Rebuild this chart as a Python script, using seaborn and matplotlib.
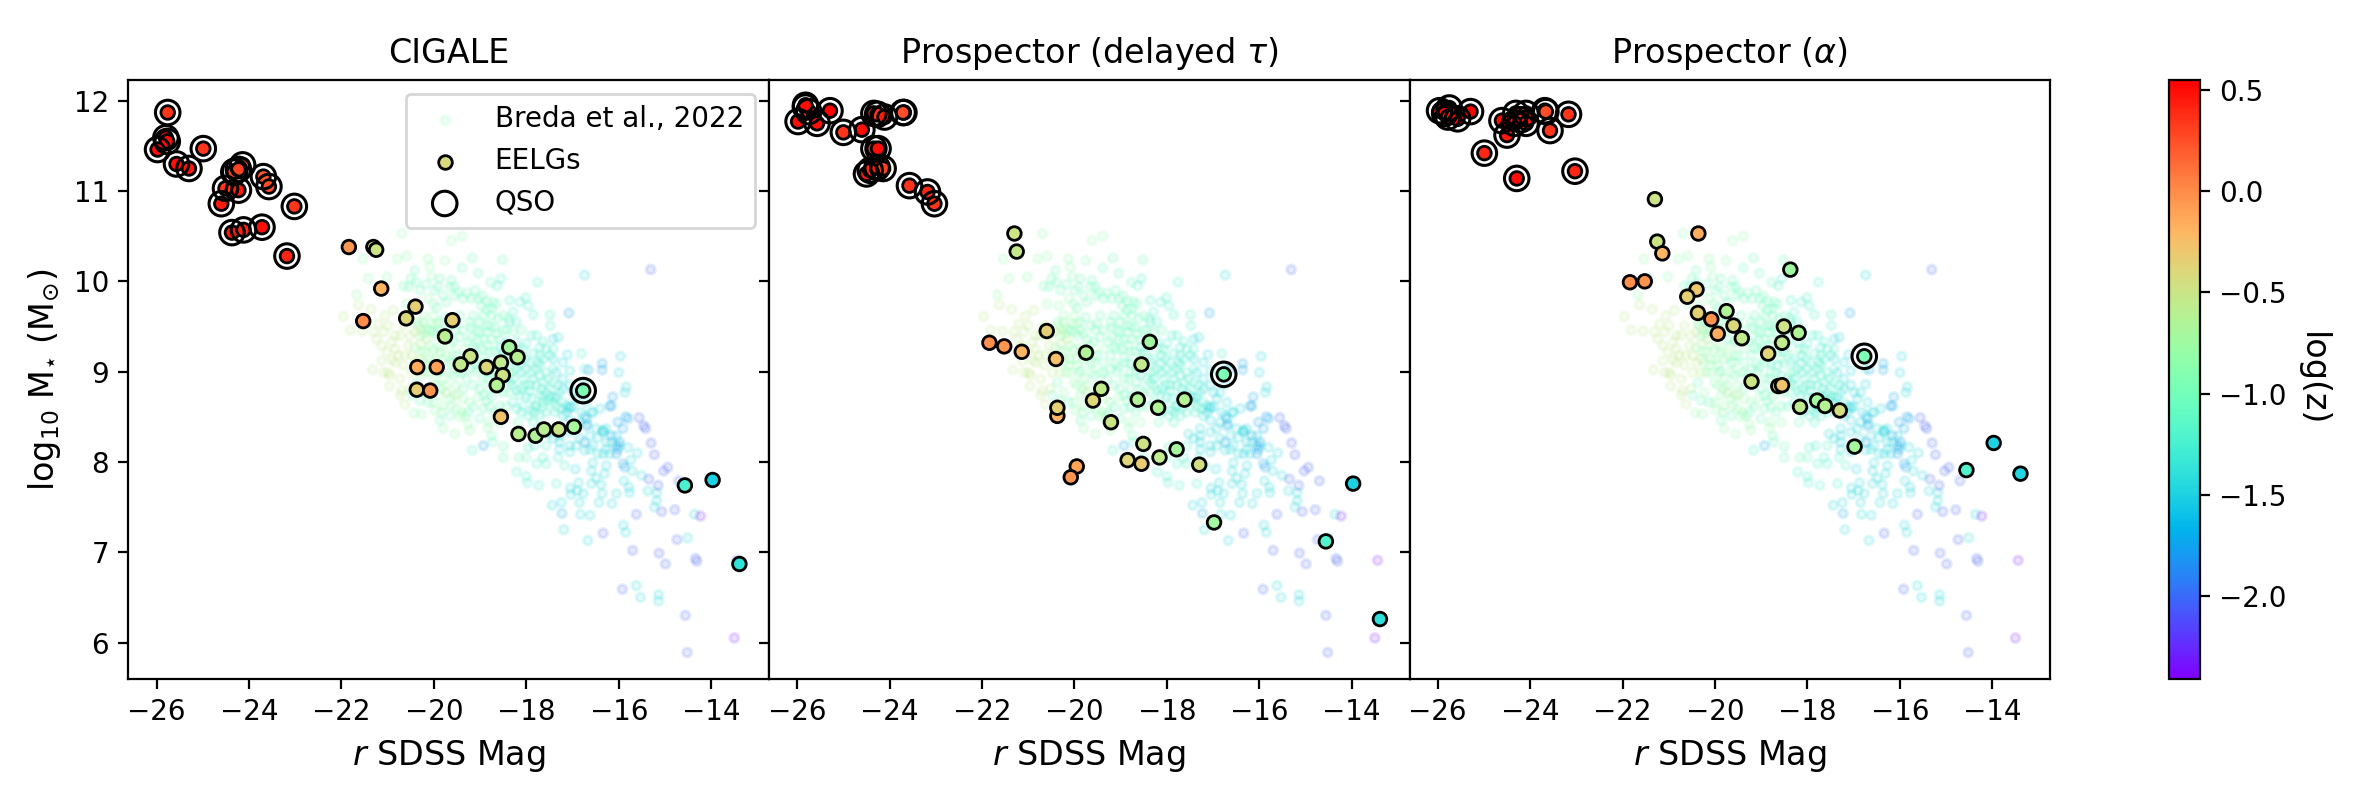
import numpy as np
import pandas as pd
import matplotlib.pyplot as plt
import seaborn as sns
from matplotlib.colors import Normalize
from matplotlib.cm import ScalarMappable

# Breda et al. 2022 background sample, grouped by colour (log z)
logz_a = -0.55
mag_a = [-21.63, -21.96, -21.81, -21.56, -21.36, -21.20, -21.09, -21.13, -20.91, -20.84, -20.91, -21.13, -20.73, -20.88, -20.55, -20.99, -21.33, -20.96, -20.73, -20.70, -20.63, -20.30, -20.27, -20.41, -20.48, -19.51, -19.73, -20.48, -20.52, -20.30,
         -21.06, -21.31, -20.99, -20.66, -20.84, -20.63, -20.77, -21.02, -21.24, -20.84, -20.66, -20.41, -20.30, -20.52, -20.16, -21.09, -20.73, -20.95]
mass_a = [9.74, 9.61, 9.46, 9.45, 9.69, 9.53, 9.44, 9.29, 9.33, 9.25, 9.13, 9.12, 9.40, 9.68, 9.29, 8.99, 9.02, 8.84, 8.92, 8.79, 8.64, 9.31, 9.46, 9.44, 9.18, 8.74, 8.77, 8.99, 8.81, 8.99,
          9.62, 9.44, 9.51, 9.51, 9.40, 9.18, 9.18, 9.22, 9.36, 9.10, 9.07, 9.10, 9.14, 9.40, 9.36, 8.99, 8.74, 8.96]

logz_b = -0.85
mag_b = [-21.54, -21.42, -21.67, -21.02, -20.79, -20.59, -20.69, -20.13, -19.62, -19.39, -19.76, -20.09, -20.05, -20.12, -20.01, -20.34, -20.59, -19.94, -20.01, -20.09, -20.19, -20.09, -19.80, -19.87, -20.09, -19.80, -19.94, -19.51, -20.23, -19.87, -19.65, -19.37, -20.01, -19.80, -19.98, -19.51, -20.27, -20.43, -19.44, -19.33, -19.26, -19.22, -19.55, -19.80, -18.83, -18.80, -18.57,
         -20.23, -20.37, -20.23, -20.16, -20.01, -20.30, -20.23, -19.94, -19.73, -19.58, -19.37, -19.65, -19.87, -19.98, -20.19, -20.01, -19.73, -19.58, -19.83,
         -20.34, -20.19, -20.05, -19.87, -20.41, -20.27, -20.12, -19.91, -19.65, -20.01, -19.80, -19.58, -19.44, -19.83, -19.62, -19.40, -19.22, -19.04]
mass_b = [10.25, 10.03, 9.85, 10.05, 10.25, 10.28, 10.53, 10.25, 10.45, 10.50, 10.23, 10.16, 10.05, 9.81, 9.75, 9.73, 9.75, 9.53, 9.62, 9.29, 9.22, 9.14, 9.14, 9.27, 8.99, 8.92, 8.85, 8.85, 8.77, 8.74, 8.70, 8.70, 8.66, 8.62, 8.57, 8.59, 8.53, 8.54, 8.50, 8.51, 8.42, 8.35, 8.31, 8.37, 8.38, 8.44, 8.44,
          9.62, 9.55, 9.55, 9.47, 9.44, 9.40, 9.10, 9.07, 9.18, 9.18, 9.25, 9.29, 9.22, 9.14, 8.99, 8.88, 8.85, 8.74, 8.55,
          9.51, 9.42, 9.53, 9.55, 9.27, 9.22, 9.07, 8.99, 8.99, 9.25, 9.42, 9.10, 8.99, 8.81, 8.62, 8.55, 8.66, 8.72]

logz_c = -1.05
mag_c = [-19.17, -18.52, -19.39, -20.55, -20.66, -20.41, -20.30, -19.87, -19.91, -19.62, -19.55, -19.55, -19.19, -19.37, -19.73, -19.94, -19.15, -19.44, -19.65, -19.87, -19.55, -19.37, -19.08, -19.58, -19.26, -19.04, -19.51, -19.08, -19.29, -19.08, -18.93, -18.93, -18.79, -19.15, -18.79, -18.57, -18.50, -18.86, -18.65, -18.83, -18.79, -18.57, -18.86, -18.72, -18.61, -18.79, -19.04, -19.11, -19.04, -18.77, -18.43, -18.29, -18.29, -18.18, -18.16, -18.00, -18.50, -18.50, -18.73, -18.75,
         -20.50, -20.39, -20.17, -19.99, -19.80, -19.65, -19.47, -19.29, -18.95, -18.86, -18.65, -18.93, -18.75, -18.50, -19.01, -19.22, -19.51, -19.76, -20.09, -19.94, -19.73, -19.44, -19.19, -18.93, -18.75, -18.43, -18.29, -18.11, -18.43, -18.57, -18.93, -19.22, -19.37, -19.65, -19.87, -19.58, -19.37, -19.11, -18.90, -18.68, -18.83, -18.65, -19.15, -19.37, -19.01, -18.75, -18.36, -18.43, -18.93, -19.01, -19.26, -19.65, -19.87, -20.12, -20.30, -20.48, -20.37,
         -19.19, -19.01, -18.86, -18.68, -18.50, -19.15, -18.97, -18.68, -18.50, -19.04, -18.79, -19.22, -18.57, -18.86, -18.68, -18.36, -18.18, -18.39, -18.75, -18.97]
mass_c = [10.26, 10.24, 10.15, 9.94, 9.95, 10.12, 9.90, 10.03, 9.94, 10.01, 9.94, 9.84, 9.81, 9.81, 9.77, 9.71, 9.62, 9.62, 9.51, 9.46, 9.46, 9.46, 9.46, 9.33, 9.33, 9.35, 9.18, 9.25, 8.92, 9.00, 8.92, 8.74, 8.81, 8.61, 8.61, 8.62, 8.77, 9.44, 9.42, 9.29, 9.22, 9.35, 9.68, 9.77, 9.59, 9.51, 9.81, 9.90, 10.09, 9.99, 8.92, 8.85, 9.00, 8.44, 8.05, 8.05, 8.17, 8.05, 8.22, 8.29,
          10.03, 9.99, 9.97, 9.90, 9.84, 9.94, 9.88, 9.87, 9.84, 9.78, 9.75, 9.62, 9.62, 9.62, 9.55, 9.55, 9.53, 9.60, 9.46, 9.40, 9.36, 9.38, 9.38, 9.36, 9.36, 9.46, 9.44, 9.46, 9.22, 9.14, 9.16, 9.18, 9.10, 9.09, 9.01, 8.96, 8.99, 9.09, 9.10, 8.99, 8.92, 8.88, 8.85, 8.81, 8.81, 8.72, 8.77, 8.61, 8.59, 8.48, 8.55, 8.51, 8.46, 8.66, 8.68, 8.74, 8.88,
          9.49, 9.44, 9.51, 9.49, 9.46, 9.27, 9.25, 9.22, 9.09, 9.05, 8.99, 9.03, 8.81, 8.68, 8.55, 8.99, 9.25, 9.59, 9.70, 9.73]

logz_d = -1.25
mag_d = [-18.55, -18.63, -18.36, -18.14, -18.29, -18.21, -18.36, -18.01, -17.96, -17.85, -17.76, -17.49, -17.48, -17.89, -18.00, -18.07, -17.78, -17.64, -17.85, -17.57, -17.93, -17.64, -18.14, -17.78, -17.57, -18.07, -17.85, -17.64, -17.42, -18.11, -17.93, -17.71, -17.49, -17.28, -18.29, -18.07, -17.82, -17.57, -17.35, -17.85, -19.17, -17.96, -18.21, -18.00, -17.98, -17.73, -17.78, -17.57, -17.64, -17.82, -17.57, -17.35, -17.31, -17.17, -16.81, -16.74,
         -18.21, -18.43, -18.11, -18.21, -18.00, -17.71, -17.42, -17.71, -17.42, -17.93, -17.71, -17.49, -17.78, -18.00, -17.64, -17.42, -17.57, -17.21, -17.78, -17.64, -17.53, -17.42, -18.29, -18.14, -18.36, -18.21, -17.96, -17.82, -17.71, -18.57, -18.36, -18.65, -18.50, -18.79, -18.57,
         -18.03, -17.89, -18.29, -18.11, -17.71, -17.49, -17.53, -17.31, -17.67, -17.89, -18.11, -17.89, -17.64, -17.39, -17.24, -17.75, -18.03, -18.21]
mass_d = [10.03, 9.95, 9.79, 9.77, 9.66, 9.55, 9.55, 9.82, 9.73, 9.63, 9.99, 9.63, 9.51, 9.40, 9.31, 9.25, 9.40, 9.33, 9.20, 9.25, 9.10, 9.14, 9.09, 9.03, 8.99, 8.92, 8.92, 8.88, 8.88, 8.81, 8.79, 8.74, 8.72, 8.77, 8.66, 8.62, 8.55, 8.55, 8.61, 8.44, 8.13, 8.16, 7.89, 7.84, 7.77, 7.74, 7.98, 7.98, 8.05, 8.18, 8.18, 7.76, 8.05, 7.96, 9.20, 9.03,
          9.33, 9.33, 9.18, 9.03, 9.03, 9.18, 9.25, 9.07, 9.03, 8.85, 8.96, 8.81, 8.85, 8.72, 8.66, 8.66, 8.77, 8.66, 8.62, 8.72, 8.68, 8.71, 8.92, 8.74, 8.88, 8.59, 8.51, 8.61, 8.51, 8.96, 9.11, 9.07, 9.22, 9.09, 9.27,
          9.14, 8.99, 9.14, 8.99, 9.27, 9.18, 8.92, 8.85, 8.81, 8.70, 8.55, 8.57, 8.61, 8.55, 8.59, 9.10, 8.85, 8.79]

logz_e = -1.45
mag_e = [-17.42, -17.31, -17.42, -17.21, -17.35, -17.06, -17.11, -17.21, -17.06, -16.92, -17.06, -17.28, -17.53, -17.06, -17.28, -16.92, -17.06, -16.63, -16.94, -16.87, -17.05, -16.90, -16.77, -17.04, -17.24, -17.44, -16.85, -16.43, -16.15, -16.05, -15.77, -15.78, -15.89, -15.51, -15.71, -16.59, -16.56, -16.49, -16.38, -16.36, -16.59, -16.31, -16.27, -16.83, -16.62, -17.19, -16.67, -15.90, -15.85, -15.62, -15.53, -15.14, -15.14, -14.51, -15.23, -15.18, -15.18, -15.37, -14.36, -16.74, -15.96, -16.00, -15.84, -15.87, -16.70, -16.56, -16.34, -16.34, -16.45, -16.27, -15.80, -15.60, -15.74, -16.34, -16.20,
         -17.13, -17.06, -16.99, -17.13, -16.81, -16.74, -16.85, -16.67, -16.59, -16.41, -17.21, -16.99, -16.85, -16.74, -17.21, -17.35, -16.92, -17.06, -17.28, -17.42, -16.85, -16.63, -16.49, -16.34, -16.27, -16.05, -16.16, -15.98, -16.27, -16.56, -16.45, -17.06, -17.28, -16.74]
mass_e = [9.36, 9.38, 9.14, 9.10, 8.99, 9.01, 9.19, 8.92, 8.85, 8.70, 8.61, 8.37, 8.31, 8.46, 8.22, 8.18, 8.11, 8.14, 7.92, 7.77, 7.71, 7.68, 7.65, 7.64, 7.55, 7.52, 7.55, 7.55, 7.54, 7.65, 7.66, 7.72, 7.79, 7.85, 7.90, 7.90, 7.99, 7.82, 7.75, 7.65, 7.76, 7.87, 7.96, 7.42, 7.41, 7.25, 7.13, 7.30, 7.22, 6.63, 6.50, 6.53, 6.46, 7.16, 7.50, 7.57, 7.66, 7.68, 7.42, 10.07, 9.17, 8.99, 8.83, 8.77, 8.66, 8.55, 8.35, 8.34, 8.27, 8.22, 8.16, 8.10, 8.02, 8.09, 8.09,
          8.62, 8.59, 8.61, 8.55, 8.55, 8.51, 8.44, 8.42, 8.55, 8.59, 8.51, 8.77, 8.77, 8.86, 8.81, 8.72, 8.37, 8.33, 8.29, 8.26, 8.26, 8.29, 8.37, 8.33, 8.37, 8.29, 8.22, 8.18, 8.14, 8.18, 8.09, 8.18, 8.14, 8.13]

logz_f = -1.75
mag_f = [-17.08, -16.36, -16.36, -16.66, -16.13, -16.20, -16.16, -16.70, -16.70, -16.74, -15.85, -16.02, -15.91, -16.16, -15.98, -16.05, -16.02, -16.05, -15.87, -15.91, -18.93, -17.23, -15.80]
mass_f = [9.65, 9.09, 9.02, 9.02, 8.72, 8.62, 8.62, 8.48, 8.40, 8.22, 8.50, 8.44, 8.37, 8.29, 8.22, 8.18, 8.14, 8.09, 7.94, 7.98, 8.18, 7.43, 8.48]

logz_g = -2.05
mag_g = [-15.31, -15.56, -15.46, -15.42, -15.30, -15.23, -14.94, -15.03, -14.70, -15.15, -15.35, -15.62, -15.07, -14.79, -14.74, -15.13, -14.99, -14.34, -14.31, -15.70, -16.34, -15.92, -14.56, -14.52]
mass_g = [10.13, 8.49, 8.40, 8.37, 8.21, 8.08, 7.94, 7.90, 7.79, 7.74, 7.81, 7.42, 7.45, 7.47, 7.14, 6.99, 6.87, 6.93, 6.90, 7.02, 7.21, 6.59, 6.30, 5.89]

logz_h = -2.35
mag_h = [-14.23, -13.50, -13.44]
mass_h = [7.40, 6.05, 6.91]

# CIGALE
cigale_eelg_mag = [-21.84, -21.31, -21.25, -21.14, -20.40, -20.60, -21.53, -19.60, -19.76, -18.37, -18.19, -19.21, -19.42, -18.86, -18.55, -18.51, -18.64, -20.36, -19.94, -20.37, -20.08, -18.55, -18.17, -17.80, -17.62, -17.30, -16.97, -16.77, -14.57, -13.97, -13.39]
cigale_eelg_mass = [10.38, 10.38, 10.35, 9.92, 9.72, 9.59, 9.56, 9.57, 9.39, 9.27, 9.16, 9.17, 9.08, 9.05, 9.10, 8.96, 8.85, 9.05, 9.05, 8.80, 8.79, 8.50, 8.31, 8.29, 8.36, 8.36, 8.39, 8.79, 7.74, 7.80, 6.87]
cigale_eelg_logz = [-0.05, -0.45, -0.50, -0.20, -0.35, -0.40, 0.00, -0.35, -0.60, -0.70, -0.60, -0.50, -0.55, -0.38, -0.55, -0.48, -0.65, -0.15, -0.10, -0.35, -0.05, -0.28, -0.60, -0.65, -0.60, -0.50, -0.70, -0.95, -1.25, -1.50, -1.38]
cigale_qso_mag = [-25.76, -25.80, -25.77, -25.98, -25.57, -25.30, -24.99, -24.14, -24.31, -24.33, -24.23, -23.69, -23.57, -24.51, -24.23, -24.60, -23.02, -24.37, -24.12, -23.72, -23.18]
cigale_qso_mass = [11.87, 11.59, 11.55, 11.46, 11.30, 11.25, 11.47, 11.29, 11.22, 11.21, 11.24, 11.16, 11.05, 11.03, 11.01, 10.86, 10.83, 10.54, 10.57, 10.60, 10.28]
cigale_qso_logz = [0.35, 0.52, 0.50, 0.50, 0.50, 0.45, 0.35, 0.25, 0.30, 0.30, 0.30, 0.22, 0.25, 0.35, 0.45, 0.45, 0.35, 0.45, 0.42, 0.50, 0.40]

# Prospector delayed tau
delayed_eelg_mag = [-21.30, -21.25, -20.60, -21.84, -21.52, -21.14, -20.40, -19.75, -18.37, -18.55, -19.42, -19.60, -20.37, -20.37, -18.63, -18.19, -17.62, -19.21, -18.51, -18.85, -18.55, -18.16, -17.79, -17.30, -19.95, -20.08, -16.98, -16.77, -14.56, -13.97, -13.39]
delayed_eelg_mass = [10.53, 10.33, 9.45, 9.32, 9.28, 9.22, 9.14, 9.21, 9.33, 9.08, 8.81, 8.68, 8.51, 8.60, 8.69, 8.60, 8.69, 8.44, 8.20, 8.02, 7.98, 8.05, 8.14, 7.97, 7.95, 7.83, 7.33, 8.97, 7.12, 7.76, 6.26]
delayed_eelg_logz = [-0.50, -0.52, -0.35, -0.02, -0.05, -0.20, -0.25, -0.65, -0.72, -0.55, -0.55, -0.38, -0.20, -0.35, -0.65, -0.65, -0.62, -0.50, -0.48, -0.38, -0.32, -0.55, -0.70, -0.45, -0.10, -0.05, -0.72, -0.95, -1.20, -1.50, -1.40]
delayed_qso_mag = [-25.82, -25.75, -25.82, -25.98, -25.57, -25.29, -25.00, -24.60, -24.34, -24.26, -24.11, -23.69, -23.71, -24.34, -24.25, -24.50, -24.42, -24.27, -24.14, -23.57, -23.18, -23.03]
delayed_qso_mass = [11.93, 11.88, 11.95, 11.77, 11.75, 11.89, 11.65, 11.68, 11.86, 11.85, 11.82, 11.87, 11.87, 11.47, 11.47, 11.19, 11.23, 11.26, 11.25, 11.06, 10.99, 10.86]
delayed_qso_logz = [0.35, 0.30, 0.50, 0.50, 0.50, 0.55, 0.35, 0.50, 0.35, 0.35, 0.45, 0.25, 0.25, 0.35, 0.50, 0.45, 0.40, 0.45, 0.30, 0.35, 0.40, 0.35]

# Prospector alpha
alpha_eelg_mag = [-21.30, -20.36, -21.25, -21.14, -21.84, -21.52, -18.37, -20.40, -20.60, -20.37, -19.75, -20.08, -19.60, -19.94, -19.42, -18.51, -18.19, -18.55, -18.85, -19.21, -18.63, -18.55, -17.79, -17.62, -17.30, -18.16, -16.98, -16.77, -14.56, -13.97, -13.39]
alpha_eelg_mass = [10.91, 10.53, 10.44, 10.31, 9.99, 10.00, 10.13, 9.91, 9.83, 9.65, 9.67, 9.58, 9.51, 9.42, 9.37, 9.50, 9.43, 9.32, 9.20, 8.89, 8.84, 8.85, 8.68, 8.62, 8.57, 8.61, 8.17, 9.17, 7.91, 8.21, 7.87]
alpha_eelg_logz = [-0.50, -0.15, -0.50, -0.20, -0.02, -0.03, -0.75, -0.30, -0.35, -0.35, -0.65, -0.03, -0.40, -0.15, -0.55, -0.48, -0.65, -0.55, -0.38, -0.50, -0.38, -0.28, -0.70, -0.62, -0.45, -0.58, -0.70, -0.95, -1.20, -1.50, -1.48]
alpha_qso_mag = [-25.96, -25.75, -25.85, -25.78, -25.57, -25.29, -24.61, -24.31, -24.09, -24.20, -24.09, -24.50, -24.34, -23.68, -23.66, -23.57, -23.17, -24.99, -24.29, -23.03]
alpha_qso_mass = [11.89, 11.92, 11.86, 11.82, 11.80, 11.88, 11.78, 11.86, 11.86, 11.79, 11.75, 11.62, 11.75, 11.89, 11.88, 11.67, 11.85, 11.42, 11.14, 11.22]
alpha_qso_logz = [0.40, 0.45, 0.50, 0.45, 0.50, 0.55, 0.50, 0.45, 0.35, 0.35, 0.45, 0.45, 0.50, 0.25, 0.25, 0.35, 0.35, 0.40, 0.50, 0.40]

titles = ['CIGALE', r'Prospector (delayed $\tau$)', r'Prospector ($\alpha$)']
x_ticks = [-26, -24, -22, -20, -18, -16, -14]
y_ticks = [6, 7, 8, 9, 10, 11, 12]
cbar_ticks = [-2.0, -1.5, -1.0, -0.5, 0.0, 0.5]

# put the bands together in one table
bands = [(logz_a, mag_a, mass_a), (logz_b, mag_b, mass_b), (logz_c, mag_c, mass_c),
         (logz_d, mag_d, mass_d), (logz_e, mag_e, mass_e), (logz_f, mag_f, mass_f),
         (logz_g, mag_g, mass_g), (logz_h, mag_h, mass_h)]
breda = pd.concat([pd.DataFrame({'mag': m, 'mass': s, 'logz': z}) for z, m, s in bands], ignore_index=True)

norm = Normalize(vmin=-2.41, vmax=0.55)
cmap = plt.get_cmap('rainbow')

fig, axes = plt.subplots(1, 3, figsize=(11.805, 4), dpi=200, sharex=True, sharey=True)
fig.subplots_adjust(left=0.0544, right=0.8683, top=0.9, bottom=0.15125, wspace=0)

panels = [(cigale_eelg_mag, cigale_eelg_mass, cigale_eelg_logz, cigale_qso_mag, cigale_qso_mass, cigale_qso_logz),
          (delayed_eelg_mag, delayed_eelg_mass, delayed_eelg_logz, delayed_qso_mag, delayed_qso_mass, delayed_qso_logz),
          (alpha_eelg_mag, alpha_eelg_mass, alpha_eelg_logz, alpha_qso_mag, alpha_qso_mass, alpha_qso_logz)]

for ax, title, panel in zip(axes, titles, panels):
    e_mag, e_mass, e_z, q_mag, q_mass, q_z = panel

    # background sample
    sns.scatterplot(data=breda, x='mag', y='mass', hue='logz', palette=cmap, hue_norm=norm,
                    s=10, alpha=0.13, edgecolor='face', linewidth=1.2, legend=False, ax=ax)

    # EELGs and QSOs share the same filled marker, the QSOs get a ring on top
    sns.scatterplot(x=e_mag + q_mag, y=e_mass + q_mass, hue=e_z + q_z, palette=cmap, hue_norm=norm,
                    s=24, edgecolor='k', linewidth=1.0, legend=False, ax=ax, zorder=3)
    ax.scatter(q_mag + [e_mag[27]], q_mass + [e_mass[27]], s=78, facecolors='none', edgecolors='k', linewidths=1.1, zorder=4)

    ax.set_title(title, fontsize=12)
    ax.set_xlabel(r'$r$ SDSS Mag', fontsize=12)
    ax.set_ylabel('')

axes[0].set_xlim(-26.61, -12.75)
axes[0].set_ylim(5.596, 12.23)
axes[0].set_xticks(x_ticks)
axes[0].set_yticks(y_ticks)
axes[0].set_ylabel(r'log$_{10}$ M$_{\star}$ (M$_{\odot}$)', fontsize=12)

# proxies for the legend
h1 = axes[0].scatter([], [], s=10, color=cmap(norm(-0.95)), alpha=0.13, linewidths=1.2, edgecolors='face', label='Breda et al., 2022')
h2 = axes[0].scatter([], [], s=24, color=cmap(norm(-0.42)), edgecolors='k', linewidths=1.0, label='EELGs')
h3 = axes[0].scatter([], [], s=78, facecolors='none', edgecolors='k', linewidths=1.1, label='QSO')
axes[0].legend(handles=[h1, h2, h3], loc='upper right')

cax = fig.add_axes([2169 / 2361, 0.15125, 31 / 2361, 0.74875])
cbar = fig.colorbar(ScalarMappable(norm=norm, cmap=cmap), cax=cax)
cbar.set_ticks(cbar_ticks)
cbar.set_label('log(z)', rotation=270, fontsize=12, labelpad=15)

fig.savefig('out.png', dpi=200)
